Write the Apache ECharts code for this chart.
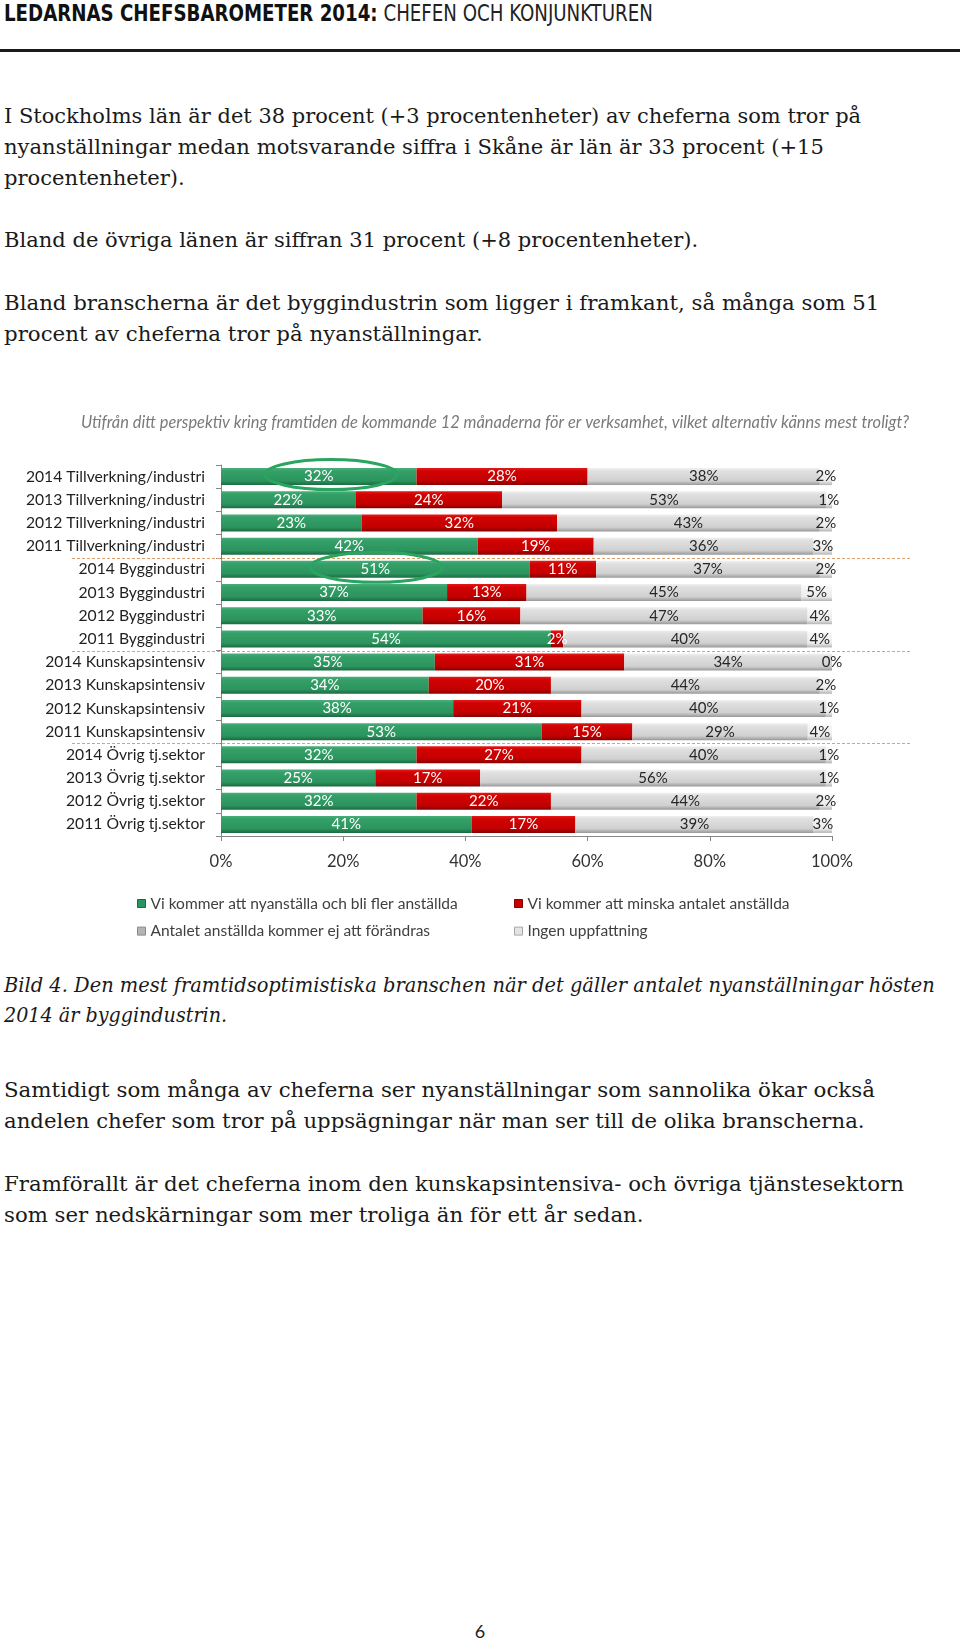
<!DOCTYPE html>
<html>
<head>
<meta charset="utf-8">
<script src="https://cdn.jsdelivr.net/npm/echarts@6/dist/echarts.min.js"></script>
<style>
html,body{margin:0;padding:0;background:#fff;}
body{width:960px;height:1642px;position:relative;overflow:hidden;}
.t{position:absolute;left:4px;white-space:nowrap;font-family:'DejaVu Serif',serif;font-size:20.5px;line-height:30px;height:30px;color:#1a1a1a;transform-origin:0 50%;}
.i{font-style:italic;}
#hdr{position:absolute;left:4px;white-space:nowrap;font-family:'Liberation Sans Narrow','DejaVu Sans Condensed',sans-serif;font-size:23px;line-height:26px;height:26px;color:#111;transform-origin:0 50%;}
#hdr b{font-weight:bold;}
#hdr span{font-weight:normal;color:#222;}
#rule{position:absolute;left:0;top:48.5px;width:960px;height:3px;background:#1a1a1a;}
#chart{position:absolute;left:0;top:380px;width:960px;height:580px;}
#pg{position:absolute;left:0;width:960px;text-align:center;font-family:Lato,sans-serif;font-size:18px;line-height:24px;color:#222;}
</style>
</head>
<body>
<div id="hdr" class="fit" data-y="12.5" data-r="653"><b>LEDARNAS CHEFSBAROMETER 2014:</b> <span>CHEFEN OCH KONJUNKTUREN</span></div>
<div id="rule"></div>

<div class="t fit" data-y="116" data-r="861">I Stockholms län är det 38 procent (+3 procentenheter) av cheferna som tror på</div>
<div class="t fit" data-y="147" data-r="824">nyanställningar medan motsvarande siffra i Skåne är län är 33 procent (+15</div>
<div class="t fit" data-y="178" data-r="185">procentenheter).</div>
<div class="t fit" data-y="240" data-r="698">Bland de övriga länen är siffran 31 procent (+8 procentenheter).</div>
<div class="t fit" data-y="302.5" data-r="879">Bland branscherna är det byggindustrin som ligger i framkant, så många som 51</div>
<div class="t fit" data-y="334" data-r="483">procent av cheferna tror på nyanställningar.</div>

<div id="chart"></div>

<div class="t i fit" data-y="985" data-r="935">Bild 4. Den mest framtidsoptimistiska branschen när det gäller antalet nyanställningar hösten</div>
<div class="t i fit" data-y="1014.5" data-r="227">2014 är byggindustrin.</div>
<div class="t fit" data-y="1090" data-r="875">Samtidigt som många av cheferna ser nyanställningar som sannolika ökar också</div>
<div class="t fit" data-y="1121" data-r="865">andelen chefer som tror på uppsägningar när man ser till de olika branscherna.</div>
<div class="t fit" data-y="1184" data-r="904">Framförallt är det cheferna inom den kunskapsintensiva- och övriga tjänstesektorn</div>
<div class="t fit" data-y="1214.5" data-r="643">som ser nedskärningar som mer troliga än för ett år sedan.</div>

<div id="pg" style="top:1619px;">6</div>

<script>
// ---- data ----
const categories = [
  '2014 Tillverkning/industri','2013 Tillverkning/industri','2012 Tillverkning/industri','2011 Tillverkning/industri',
  '2014 Byggindustri','2013 Byggindustri','2012 Byggindustri','2011 Byggindustri',
  '2014 Kunskapsintensiv','2013 Kunskapsintensiv','2012 Kunskapsintensiv','2011 Kunskapsintensiv',
  '2014 Övrig tj.sektor','2013 Övrig tj.sektor','2012 Övrig tj.sektor','2011 Övrig tj.sektor'
];
const nyanstalla = [32,22,23,42,51,37,33,54,35,34,38,53,32,25,32,41];
const minska     = [28,24,32,19,11,13,16, 2,31,20,21,15,27,17,22,17];
const oforandrat = [38,53,43,36,37,45,47,40,34,44,40,29,40,56,44,39];
const ingen      = [ 2, 1, 2, 3, 2, 5, 4, 4, 0, 2, 1, 4, 1, 1, 2, 3];
const seriesNames = [
  'Vi kommer att nyanställa och bli fler anställda',
  'Vi kommer att minska antalet anställda',
  'Antalet anställda kommer ej att förändras',
  'Ingen uppfattning'
];
const xTicks = [0, 20, 40, 60, 80, 100];
const chartTitle = 'Utifrån ditt perspektiv kring framtiden de kommande 12 månaderna för er verksamhet, vilket alternativ känns mest troligt?';
const highlights = [
  {category: '2014 Tillverkning/industri', at: 18},
  {category: '2014 Byggindustri', at: 25.4}
];

// ---- text fitting ----
document.querySelectorAll('.fit').forEach(el => {
  const y = parseFloat(el.dataset.y), r = parseFloat(el.dataset.r);
  const h = el.offsetHeight;
  el.style.top = (y - h / 2) + 'px';
  const w = el.scrollWidth;
  const target = r - 4;
  el.style.transform = 'scaleX(' + (target / w) + ')';
});

// ---- chart ----
const allSeries = [nyanstalla, minska, oforandrat, ingen];
const sums = categories.map((c, i) => allSeries.reduce((s, arr) => s + arr[i], 0));

function grad(stops) {
  return new echarts.graphic.LinearGradient(0, 0, 0, 1, stops.map(c => ({offset: c[0], color: c[1]})));
}
const fills = [
  grad([[0,'#4aae7a'],[0.18,'#34a068'],[0.75,'#2c945e'],[1,'#1b6a41']]),
  grad([[0,'#e41a1a'],[0.18,'#d20202'],[0.75,'#c20000'],[1,'#860000']]),
  grad([[0,'#f0f0f0'],[0.18,'#e0e0e0'],[0.75,'#d0d0d0'],[1,'#989898']]),
  grad([[0,'#ffffff'],[0.18,'#f6f6f6'],[0.75,'#ececec'],[1,'#b4b4b4']])
];
const legendStyles = [
  {color: '#2a9460', borderColor: '#1b6a41', borderWidth: 1},
  {color: '#c80000', borderColor: '#860000', borderWidth: 1},
  {color: '#b4b4b4', borderColor: '#8a8a8a', borderWidth: 1},
  {color: '#e4e4e4', borderColor: '#a8a8a8', borderWidth: 1}
];
const labelColors = ['#ffffff', '#ffffff', '#262626', '#262626'];

const chart = echarts.init(document.getElementById('chart'), null, {renderer: 'canvas'});
const FONT = 'Lato, "Open Sans", sans-serif';

const legendCommon = {
  top: 510, orient: 'vertical', itemGap: 10.6, itemWidth: 8, itemHeight: 8, icon: 'rect',
  textStyle: {fontFamily: FONT, fontSize: 15.5, lineHeight: 17, color: '#404040'}
};
const legendItem = k => ({name: seriesNames[k], itemStyle: legendStyles[k]});

const option = {
  animation: false,
  backgroundColor: '#ffffff',
  grid: {left: 221, width: 611, top: 85, height: 371, containLabel: false},
  xAxis: {
    type: 'value', min: xTicks[0], max: xTicks[xTicks.length - 1], interval: xTicks[1] - xTicks[0],
    splitLine: {show: false},
    axisLine: {show: true, lineStyle: {color: '#868686', width: 1}},
    axisTick: {show: true, length: 5, lineStyle: {color: '#868686'}},
    axisLabel: {margin: 17, formatter: '{value}%', fontFamily: FONT, fontSize: 16.5, color: '#333333'}
  },
  yAxis: {
    type: 'category', data: categories, inverse: true,
    axisLine: {show: true, lineStyle: {color: '#868686', width: 1}},
    axisTick: {show: true, length: 5, lineStyle: {color: '#868686'}},
    axisLabel: {margin: 16, fontFamily: FONT, fontSize: 15.7, color: '#1f1f1f'}
  },
  legend: [
    Object.assign({data: [legendItem(0), legendItem(2)], left: 132}, legendCommon),
    Object.assign({data: [legendItem(1), legendItem(3)], left: 509}, legendCommon)
  ],
  series: allSeries.map((arr, k) => ({
    name: seriesNames[k],
    type: 'bar',
    stack: 'total',
    barWidth: 17,
    itemStyle: {color: fills[k]},
    label: {
      show: true, position: 'inside',
      formatter: p => p.data.raw + '%',
      fontFamily: FONT, fontSize: 15, color: labelColors[k]
    },
    data: arr.map((v, i) => ({value: v / sums[i] * 100, raw: v}))
  }))
};
chart.setOption(option);

// group separators and highlight ellipses, positioned through the axes
const graphics = [{
  type: 'text', x: 81, y: 43,
  style: {text: chartTitle, fontFamily: FONT, fontSize: 16.4, fontStyle: 'italic', fill: '#7a7a7a', verticalAlign: 'middle'}
}];
const group = c => c.slice(5);
for (let i = 1; i < categories.length; i++) {
  if (group(categories[i]) !== group(categories[i - 1])) {
    const y0 = chart.convertToPixel({yAxisIndex: 0}, categories[i - 1]);
    const y1 = chart.convertToPixel({yAxisIndex: 0}, categories[i]);
    const y = Math.round((y0 + y1) / 2) + 0.5;
    graphics.push({
      type: 'line', z: 50,
      shape: {x1: 72, y1: y, x2: 911, y2: y},
      style: {stroke: '#dfa06a', lineWidth: 1.2, lineDash: [3, 2]}
    });
  }
}
highlights.forEach(h => {
  const p = chart.convertToPixel({gridIndex: 0}, [h.at, h.category]);
  graphics.push({
    type: 'ellipse', z: 60,
    shape: {cx: p[0], cy: p[1] - 2, rx: 66, ry: 15},
    style: {fill: 'none', stroke: '#2aa55f', lineWidth: 3}
  });
});
chart.setOption({graphic: graphics});
</script>
</body>
</html>
